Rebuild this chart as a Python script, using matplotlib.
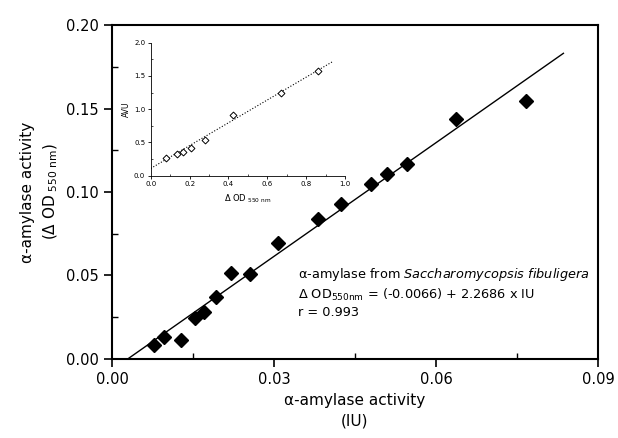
# alpha-amylase activity calibration plot with inset

import numpy as np
import matplotlib
matplotlib.use('Agg')
import matplotlib.pyplot as plt
from matplotlib.ticker import MultipleLocator

# Main data: activity (IU) vs delta OD 550 nm
iu = [0.0077, 0.0096, 0.0128, 0.0154, 0.0170, 0.0192, 0.0220, 0.0256,
      0.0307, 0.0382, 0.0425, 0.0479, 0.0510, 0.0547, 0.0638, 0.0767]
od = [0.0084, 0.0134, 0.0114, 0.0244, 0.0283, 0.0373, 0.0517, 0.0509,
      0.0696, 0.0837, 0.0926, 0.1046, 0.1106, 0.1168, 0.1435, 0.1545]

# Regression from the chart annotation
fit_intercept = -0.0066
fit_slope = 2.2686
fit_x = [0.0029, 0.0836]

# Inset data: delta OD vs AVU
ins_od = [0.079, 0.137, 0.168, 0.209, 0.281, 0.425, 0.672, 0.859]
ins_avu = [0.261, 0.326, 0.356, 0.421, 0.536, 0.912, 1.248, 1.574]
ins_intercept = 0.11
ins_slope = 1.715
ins_fit_x = [0.0, 0.935]

plt.rcParams['font.family'] = ['DejaVu Sans']

fig = plt.figure(figsize=(6.18, 4.38), dpi=100)
ax = fig.add_axes([0.1812, 0.1804, 0.7864, 0.7625])

fx = np.array(fit_x)
ax.plot(fx, fit_intercept + fit_slope * fx, color='black', linewidth=1.0)
ax.plot(iu, od, linestyle='none', marker='D', markersize=7.5,
        color='black')

ax.set_xlim(0, 0.09)
ax.set_ylim(0, 0.20)
ax.xaxis.set_major_locator(MultipleLocator(0.03))
ax.xaxis.set_minor_locator(MultipleLocator(0.015))
ax.yaxis.set_major_locator(MultipleLocator(0.05))
ax.yaxis.set_minor_locator(MultipleLocator(0.025))
ax.xaxis.set_major_formatter(plt.FormatStrFormatter('%.2f'))
ax.yaxis.set_major_formatter(plt.FormatStrFormatter('%.2f'))
ax.tick_params(which='major', direction='out', length=6, width=1.2,
               labelsize=10.5)
ax.tick_params(which='minor', direction='in', length=4, width=1.0)
for s in ax.spines.values():
    s.set_linewidth(1.5)

ax.set_xlabel('α-amylase activity\n(IU)', fontsize=11, linespacing=1.5)
ax.set_ylabel('α-amylase activity\n(Δ OD$_{\\ \\mathrm{550\\ nm}}$)',
              fontsize=11, linespacing=1.5)

ax.text(0.0344, 0.0555,
        'α-amylase from $\\it{Saccharomycopsis\\ fibuligera}$\n'
        'Δ OD$_{\\mathrm{550nm}}$ = (-0.0066) + 2.2686 x IU\n'
        'r = 0.993',
        fontsize=9.3, va='top', ha='left', linespacing=1.3)

# Inset
ins = fig.add_axes([0.2439, 0.5988, 0.3144, 0.3037])
ix = np.array(ins_fit_x)
ins.plot(ix, ins_intercept + ins_slope * ix, color='black',
         linestyle=':', linewidth=0.8)
ins.plot(ins_od, ins_avu, linestyle='none', marker='D', markersize=3.5,
         markerfacecolor='white', markeredgecolor='black',
         markeredgewidth=0.7)
ins.set_xlim(0, 1.0)
ins.set_ylim(0, 2.0)
ins.xaxis.set_major_locator(MultipleLocator(0.2))
ins.xaxis.set_minor_locator(MultipleLocator(0.1))
ins.yaxis.set_major_locator(MultipleLocator(0.5))
ins.yaxis.set_minor_locator(MultipleLocator(0.25))
ins.xaxis.set_major_formatter(plt.FormatStrFormatter('%.1f'))
ins.yaxis.set_major_formatter(plt.FormatStrFormatter('%.1f'))
ins.tick_params(which='major', direction='out', length=2.5, width=0.6,
                labelsize=5, pad=1.5)
ins.tick_params(which='minor', direction='in', length=1.5, width=0.5)
ins.spines['top'].set_visible(False)
ins.spines['right'].set_visible(False)
ins.spines['left'].set_linewidth(0.6)
ins.spines['bottom'].set_linewidth(0.6)
ins.set_ylabel('AVU', fontsize=5.5, labelpad=2)
ins.set_xlabel('Δ OD$_{\\ \\mathrm{550\\ nm}}$', fontsize=6, labelpad=4)

plt.savefig('out.png', dpi=100)
